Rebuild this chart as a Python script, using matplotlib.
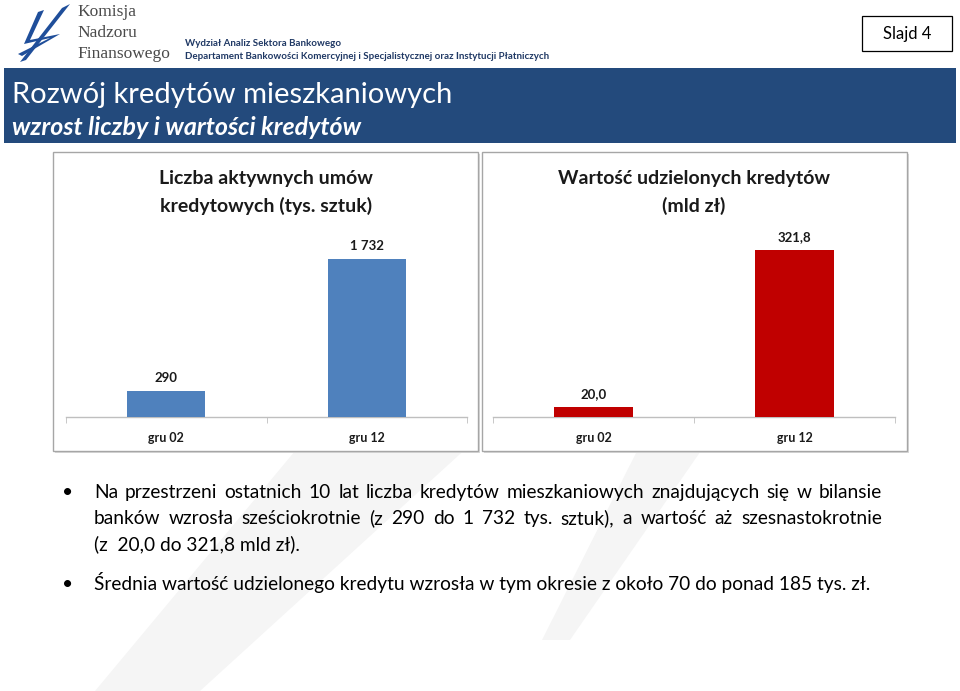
import matplotlib
matplotlib.use("Agg")
import matplotlib.pyplot as plt
from matplotlib.patches import Rectangle, Polygon

plt.rcParams['font.family'] = ['Lato', 'DejaVu Sans']

# ---------------- data ----------------
categories = ["gru 02", "gru 12"]
count_values = [290, 1732]
count_labels = ["290", "1 732"]
value_values = [20.0, 321.8]
value_labels = ["20,0", "321,8"]

title_main = "Rozwój kredytów mieszkaniowych"
title_sub = "wzrost liczby i wartości kredytów"
chart1_title = ["Liczba aktywnych umów", "kredytowych (tys. sztuk)"]
chart2_title = ["Wartość udzielonych kredytów", "(mld zł)"]
header1 = "Wydział Analiz Sektora Bankowego"
header2 = "Departament Bankowości Komercyjnej i Specjalistycznej oraz Instytucji Płatniczych"
logo_lines = ["Komisja", "Nadzoru", "Finansowego"]
bullet1_lines = [
    "Na przestrzeni ostatnich 10 lat liczba kredytów mieszkaniowych znajdujących się w bilansie",
    "banków wzrosła sześciokrotnie (z 290 do 1 732 tys. sztuk), a wartość aż szesnastokrotnie",
    "(z  20,0 do 321,8 mld zł).",
]
bullet2 = "Średnia wartość udzielonego kredytu wzrosła w tym okresie z około 70 do ponad 185 tys. zł."

W, H = 960, 691
fig = plt.figure(figsize=(W / 100, H / 100), dpi=100)
fig.patch.set_facecolor("white")

bg = fig.add_axes([0, 0, 1, 1])
bg.set_xlim(0, W)
bg.set_ylim(H, 0)
bg.axis("off")

# faint watermark strokes
wm = "#f5f5f5"
bg.add_patch(Polygon([(95, 691), (200, 691), (470, 445), (300, 445)], closed=True, fc=wm, ec="none", zorder=0))
bg.add_patch(Polygon([(542, 640), (570, 640), (705, 445), (640, 445)], closed=True, fc=wm, ec="none", zorder=0))

# logo strokes
logo_blue = "#1f4e9a"
bg.add_patch(Polygon([(20, 62), (26, 60), (70, 4), (62, 8)], closed=True, fc=logo_blue, ec="none"))
bg.add_patch(Polygon([(38, 12), (44, 10), (30, 40), (60, 34), (22, 56), (18, 54), (50, 38), (24, 44)],
                     closed=True, fc=logo_blue, ec="none"))
for i, t in enumerate(logo_lines):
    bg.text(77, 12 + i * 21, t, fontsize=12.5, family=["Liberation Serif", "DejaVu Serif"],
            color="#4a4a4a", va="center", ha="left")

# header texts
bg.text(185, 43, header1, fontsize=7.0, fontweight="bold", color="#1f3864", va="center", ha="left")
bg.text(185, 56, header2, fontsize=7.0, fontweight="bold", color="#1f3864", va="center", ha="left")

# slide number box
bg.add_patch(Rectangle((862, 16), 90, 35, fc="white", ec="black", lw=0.9))
bg.text(907, 33.5, "Slajd 4", fontsize=12, ha="center", va="center", color="black")

# banner
bg.add_patch(Rectangle((4, 68), 952, 75, fc="#234a7c", ec="none"))
bg.text(12, 95, title_main, fontsize=21, color="white", va="center", ha="left")
bg.text(12, 127, title_sub, fontsize=18, color="white", fontweight="bold", style="italic",
        va="center", ha="left")

# chart panels
for (x0, x1) in [(53, 478), (482, 907)]:
    bg.add_patch(Rectangle((x0 + 2, 154), x1 - x0, 299, fc="#d9d9d9", ec="none", zorder=1))
    bg.add_patch(Rectangle((x0, 152), x1 - x0, 299, fc="white", ec="#a6a6a6", lw=1.0, zorder=2))

# chart titles
for i, t in enumerate(chart1_title):
    bg.text(266, 178 + i * 28, t, fontsize=14, fontweight="bold", ha="center", va="center",
            color="#1a1a1a", zorder=3)
for i, t in enumerate(chart2_title):
    bg.text(694, 178 + i * 28, t, fontsize=14, fontweight="bold", ha="center", va="center",
            color="#1a1a1a", zorder=3)


def make_chart(x_left, width_px, y_bottom, ymax, px_per_unit, values, labels, color):
    h_px = ymax * px_per_unit
    ax = fig.add_axes([x_left / W, 1 - y_bottom / H, width_px / W, h_px / H])
    ax.set_zorder(5)
    ax.patch.set_alpha(0)
    x = list(range(len(categories)))
    ax.bar(x, values, width=0.39, color=color, zorder=3)
    ax.set_xlim(-0.5, len(categories) - 0.5)
    ax.set_ylim(0, ymax)
    for s in ["top", "right", "left"]:
        ax.spines[s].set_visible(False)
    ax.spines["bottom"].set_color("#bfbfbf")
    ax.spines["bottom"].set_linewidth(1.0)
    ax.set_yticks([])
    ax.set_xticks(x)
    ax.set_xticklabels(categories, fontsize=9, fontweight="bold", color="#1a1a1a")
    ax.tick_params(axis="x", which="major", length=0, pad=11)
    ax.set_xticks([-0.5, 0.5, 1.5], minor=True)
    ax.tick_params(axis="x", which="minor", length=4, color="#bfbfbf", direction="out")
    for xi, v, lab in zip(x, values, labels):
        ax.annotate(lab, (xi, v), xytext=(0, 9), textcoords="offset points",
                    ha="center", va="center", fontsize=9.5, fontweight="bold", color="#1a1a1a")
    return ax


make_chart(66, 401, 417, 2000, 158 / 1732, count_values, count_labels, "#4f81bd")
make_chart(493, 402, 417, 350, 167 / 321.8, value_values, value_labels, "#c00000")

# bullet text
fs = 13.8
base = 6  # baseline offset below the visual line centre
bg.text(68, 492 + base, "•", fontsize=fs, va="baseline", ha="center", color="black")
bg.text(68, 584 + base, "•", fontsize=fs, va="baseline", ha="center", color="black")

fig.canvas.draw()
renderer = fig.canvas.get_renderer()


def text_width(s):
    t = bg.text(0, 0, s, fontsize=fs)
    bb = t.get_window_extent(renderer=renderer)
    t.remove()
    return bb.width


x_start, x_end = 94, 882
ys = [492, 518, 544]
for i, line in enumerate(bullet1_lines):
    if i < 2:
        words = line.split(" ")
        widths = [text_width(w) for w in words]
        gap = (x_end - x_start - sum(widths)) / (len(words) - 1)
        xc = x_start
        for w, wd in zip(words, widths):
            bg.text(xc, ys[i] + base, w, fontsize=fs, va="baseline", ha="left", color="black")
            xc += wd + gap
    else:
        bg.text(x_start, ys[i] + base, line, fontsize=fs, va="baseline", ha="left", color="black")
bg.text(x_start, 584 + base, bullet2, fontsize=fs, va="baseline", ha="left", color="black")

fig.savefig("out.png", dpi=100, facecolor="white")
